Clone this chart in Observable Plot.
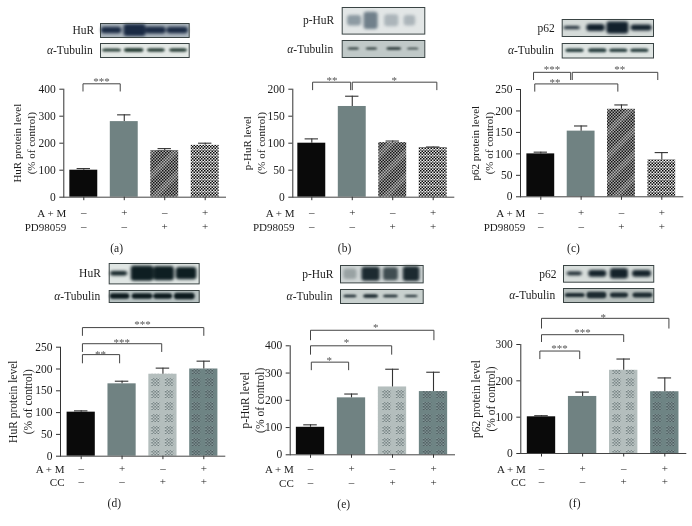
<!DOCTYPE html>
<html>
<head>
<meta charset="utf-8">
<script src="https://cdn.jsdelivr.net/npm/d3@7"></script>
<script src="https://cdn.jsdelivr.net/npm/@observablehq/plot@0.6"></script>
<style>
html,body{margin:0;padding:0;background:#fff}
#root{position:relative;width:692px;height:526px;overflow:hidden;background:#fff;filter:blur(0.35px)}
#root svg{position:absolute;background:transparent;overflow:visible}
</style>
</head>
<body>
<div id="root"></div>
<script>
// ---------- chart data ----------
const lanes = [0, 1, 2, 3];
const amSigns = ["–", "+", "–", "+"];
const drugSigns = ["–", "–", "+", "+"];
const ids = ["a", "b", "c", "d", "e", "f"];
const yTitles = ["HuR protein level\n(% of control)", "p-HuR level\n(% of control)", "p62 protein level\n(% of control)",
                 "HuR protein level\n(% of control)", "p-HuR level\n(% of control)", "p62 protein level\n(% of control)"];
const drugs = ["PD98059", "PD98059", "PD98059", "CC", "CC", "CC"];
const values = [[100, 280, 173, 192], [100, 168, 101, 92], [100, 153, 204, 86],
                [101, 166, 188, 200], [101, 209, 249, 232], [101, 157, 229, 170]];
const errors = [[6, 25, 7, 8], [8, 19, 3, 1], [4, 12, 10, 17],
                [3, 6, 14, 18], [9, 14, 65, 71], [3, 12, 31, 38]];
const yMax = [400, 200, 250, 250, 400, 300];
const yTicks = [[0,100,200,300,400],[0,50,100,150,200],[0,50,100,150,200,250],
                [0,50,100,150,200,250],[0,100,200,300,400],[0,100,200,300]];
// significance brackets: [lane from, lane to, level, foot level, stars, star lane, star level]
const brackets = [
  [[-0.02, 0.90, 420, 393, "***", 0.44, 440]],
  [[0.02, 0.96, 213, 199, "**", 0.50, 222], [1.00, 3.09, 213, 199, "*", 2.04, 222]],
  [[-0.18, 0.74, 290, 273, "***", 0.28, 304], [0.78, 2.90, 290, 273, "**", 1.96, 304], [-0.15, 1.91, 263, 246, "**", 0.35, 273]],
  [[0.03, 0.94, 233, 214, "**", 0.47, 240], [0.03, 1.97, 258, 240, "***", 0.99, 268], [0.03, 3.00, 295, 277, "***", 1.50, 309]],
  [[0.02, 0.93, 340, 312, "*", 0.46, 358], [0.00, 1.98, 400, 369, "*", 0.88, 422], [0.00, 3.01, 457, 422, "*", 1.59, 477]],
  [[-0.04, 0.93, 282, 261, "***", 0.44, 296], [0.00, 2.00, 327, 308, "***", 1.00, 340], [0.00, 3.10, 372, 345, "*", 1.50, 383]]
];
// western blots: label, background, ink, band centre, band width, band thickness, band strength
const blotLabels = [["HuR", "α-Tubulin"], ["p-HuR", "α-Tubulin"], ["p62", "α-Tubulin"],
                    ["HuR", "α-Tubulin"], ["p-HuR", "α-Tubulin"], ["p62", "α-Tubulin"]];
const blotPaper = [["#aab4bc", "#e4e9e6"], ["#e2e6e6", "#c0c9c8"], ["#d5dbd9", "#dfe5e3"],
                   ["#e0e6e4", "#b8c2c2"], ["#d0d6d6", "#c8d0ce"], ["#d8dedc", "#b8c0be"]];
const blotInk = [["#1a2a44", "#2a4038"], ["#6a7a86", "#1f2e2e"], ["#12202c", "#2a4040"],
                 ["#0e1e22", "#0c1a1e"], ["#1c2a30", "#16242a"], ["#14222a", "#1c2a30"]];
const blotCentre = [[[.125,.39,.625,.87],[.13,.38,.63,.88]], [[.15,.35,.6,.82],[.14,.36,.63,.86]], [[.11,.37,.61,.87],[.14,.39,.62,.85]],
                    [[.11,.37,.61,.86],[.12,.37,.6,.84]], [[.12,.37,.61,.86],[.12,.37,.61,.86]], [[.125,.38,.62,.87],[.13,.37,.62,.88]]];
const blotWidth = [[[.23,.25,.23,.24],[.21,.22,.2,.2]], [[.17,.17,.17,.14],[.14,.14,.18,.14]], [[.18,.2,.24,.23],[.2,.2,.2,.2]],
                   [[.19,.25,.23,.23],[.22,.23,.21,.23]], [[.16,.22,.18,.2],[.16,.18,.18,.16]], [[.17,.2,.2,.21],[.22,.22,.2,.22]]];
const blotThick = [[[.45,.85,.5,.45],[.22,.28,.24,.24]], [[.4,.65,.45,.4],[.12,.12,.15,.1]], [[.18,.4,.7,.35],[.25,.28,.24,.24]],
                   [[.22,.75,.7,.6],[.45,.45,.45,.55]], [[.6,.8,.75,.85],[.18,.24,.18,.16]], [[.22,.4,.62,.4],[.3,.45,.35,.35]]];
const blotStrength = [[[1,1,1,1],[1,1,1,1]], [[.7,.95,.45,.45],[1,1,1,1]], [[1,1,1,1],[1,1,1,1]],
                      [[1,1,1,1],[1,1,1,1]], [[.3,1,.8,1],[1,1,1,1]], [[1,1,1,1],[1,1,1,1]]];

// ---------- layout (page pixels) ----------
const FONT = "Liberation Serif";
const cells = [[0,231],[231,230],[461,231],[0,231],[231,230],[461,231]];
const rows = [[59,262],[59,262],[59,262],[304,526],[304,526],[304,526]];
const layout = [
 {axis:63.3, end:225, t0:83.3, t3:204.7, y0:196.7, yTop:88.7, row1:16.6, row2:30.6, cap:51.6, labelDx:2.4, titleDx:-40.5},
 {axis:292.3, end:453.3, t0:311.3, t3:432.7, y0:196.7, yTop:88.7, row1:16.6, row2:30.6, cap:51.6, labelDx:1.7, titleDx:-39.5},
 {axis:520, end:682.3, t0:540.3, t3:661.3, y0:196.3, yTop:89, row1:17, row2:31, cap:52, labelDx:4.7, titleDx:-39.3},
 {axis:60, end:224.3, t0:80.7, t3:203.3, y0:455.7, yTop:346.7, row1:13, row2:26.3, cap:47.6, labelDx:4, titleDx:-40.5},
 {axis:289.7, end:454, t0:310, t3:433, y0:454.3, yTop:345.3, row1:14.7, row2:28.4, cap:49.4, labelDx:3.6, titleDx:-38.4},
 {axis:520.3, end:685.3, t0:541, t3:664.3, y0:453, yTop:344, row1:16, row2:29.3, cap:50.3, labelDx:5, titleDx:-38.3}
];
const blotBoxes = [
 {x1:100, x2:188.7, b:[[22.5,36.5],[43.3,57.3]], lab:[93.7,92.3]},
 {x1:341.7, x2:424.3, b:[[6.7,33.3],[40,57]], lab:[333.7,332.7]},
 {x1:561.7, x2:653, b:[[19,36],[43,57.5]], lab:[554.3,553.3]},
 {x1:108.7, x2:198.7, b:[[263.3,283.7],[290.3,302.3]], lab:[100.3,99.7]},
 {x1:340, x2:422.7, b:[[265.3,282.7],[289,303]], lab:[333,332]},
 {x1:563, x2:653.3, b:[[265,281.7],[288.3,302.3]], lab:[556,554.7]}
];

const root = document.getElementById("root");
const baseStyle = {fontFamily: FONT, fontSize: "11px", color: "#1c1c1c", background: "transparent"};

function place(svg, left, top) {
  svg.style.left = left + "px";
  svg.style.top = top + "px";
  root.appendChild(svg);
}

function patternDefs(k) {
  const p = `p${k}`;
  const ck = (id, dark, light) => `<pattern id="${p}-${id}" width="3" height="3" patternUnits="userSpaceOnUse">
      <rect width="3" height="3" fill="${light}"/><rect width="1.5" height="1.5" fill="${dark}"/><rect x="1.5" y="1.5" width="1.5" height="1.5" fill="${dark}"/></pattern>`;
  const html = ck("ck", "#161616", "#a8a8a8") + ck("ckw", "#060606", "#e4e4e4") +
    ck("ckl", "#6e7c7c", "#c8d0d0") + ck("ckd", "#4a5a5c", "#86989a") +
    `<pattern id="${p}-hatch" width="24" height="24" patternUnits="userSpaceOnUse">
       <rect width="24" height="24" fill="url(#${p}-ck)"/>
       <path d="M0,24 L24,0 L24,8 L8,24 Z M0,8 L8,0 L0,0 Z" fill="rgba(255,255,255,.16)"/></pattern>
     <pattern id="${p}-dots" width="6" height="6" patternUnits="userSpaceOnUse">
       <rect width="6" height="6" fill="url(#${p}-ckw)"/><rect width="6" height="1" fill="rgba(255,255,255,.4)"/></pattern>
     <pattern id="${p}-plaidL" width="13.5" height="12" patternUnits="userSpaceOnUse">
       <rect width="13.5" height="12" fill="#b4bebd"/><rect x="3" y="2" width="8" height="8" fill="url(#${p}-ckl)"/></pattern>
     <pattern id="${p}-plaidD" width="13.5" height="12" patternUnits="userSpaceOnUse">
       <rect width="13.5" height="12" fill="#6e8484"/><rect x="3" y="2" width="8" height="8" fill="url(#${p}-ckd)"/></pattern>`;
  return () => {
    const d = document.createElementNS("http://www.w3.org/2000/svg", "defs");
    d.innerHTML = html;
    return d;
  };
}

function drawChart(k) {
  const L = layout[k], [cx, cw] = cells[k], [top, bottom] = rows[k];
  const p = `p${k}`;
  const fills = k < 3
    ? ["#0a0a0a", "#708282", `url(#${p}-hatch)`, `url(#${p}-dots)`]
    : ["#0a0a0a", "#708282", `url(#${p}-plaidL)`, `url(#${p}-plaidD)`];
  const table = lanes.map(i => ({lane: i, value: values[k][i], err: errors[k][i], fill: fills[i]}));
  const lines = brackets[k].flatMap((b, id) => [
    {id, x: b[0], y: b[3]}, {id, x: b[0], y: b[2]}, {id, x: b[1], y: b[2]}, {id, x: b[1], y: b[3]}]);
  const stars = brackets[k].map(b => ({text: b[4], x: b[5], y: b[6]}));
  const titleSize = k < 3 ? 11 : 11.5;
  const svg = Plot.plot({
    width: cw, height: bottom - top,
    marginLeft: L.axis - cx, marginRight: cx + cw - L.end,
    marginTop: L.yTop - top, marginBottom: bottom - L.y0,
    style: baseStyle,
    x: {domain: [0, 3], range: [L.t0 - cx, L.t3 - cx], label: null},
    y: {domain: [0, yMax[k]], label: null},
    marks: [
      patternDefs(k),
      Plot.rect(table, {x1: d => d.lane - 0.345, x2: d => d.lane + 0.345, y1: () => 0, y2: "value", fill: "fill"}),
      Plot.ruleX(table, {x: "lane", y1: "value", y2: d => d.value + d.err, stroke: "#333", strokeWidth: 1.1}),
      Plot.ruleY(table, {y: d => d.value + d.err, x1: d => d.lane - 0.165, x2: d => d.lane + 0.165, stroke: "#333", strokeWidth: 1.1}),
      Plot.frame({anchor: "left", stroke: "#333"}),
      Plot.frame({anchor: "bottom", stroke: "#444"}),
      Plot.axisY({ticks: yTicks[k], tickSize: 4, tickPadding: 4, label: null, stroke: "#333", fill: "#1c1c1c", fontSize: 11.5}),
      Plot.axisX({ticks: lanes, tickSize: 3.5, tickPadding: L.row1 - 9, tickFormat: i => amSigns[i], label: null, stroke: "#333", fill: "#1c1c1c"}),
      Plot.axisX({ticks: lanes, tickSize: 0, tickPadding: L.row2 - 5.5, tickFormat: i => drugSigns[i], label: null, fill: "#1c1c1c"}),
      Plot.line(lines, {x: "x", y: "y", z: "id", stroke: "#444", strokeWidth: 1}),
      Plot.text(stars, {x: "x", y: "y", text: "text", dy: 3, fontSize: 11, fill: "#555"}),
      Plot.text([yTitles[k]], {frameAnchor: "left", dx: L.titleDx, rotate: -90, textAnchor: "middle", lineHeight: 1.3, fontSize: titleSize, fill: "#1c1c1c"}),
      Plot.text(["A + M"], {frameAnchor: "bottom-left", textAnchor: "end", lineAnchor: "middle", dx: L.labelDx, dy: L.row1, fontSize: 11, fill: "#1c1c1c"}),
      Plot.text([drugs[k]], {frameAnchor: "bottom-left", textAnchor: "end", lineAnchor: "middle", dx: L.labelDx, dy: L.row2, fontSize: 11, fill: "#1c1c1c"}),
      Plot.text([`(${ids[k]})`], {x: () => 0.81, frameAnchor: "bottom", lineAnchor: "middle", dy: L.cap, fontSize: 11.5, fill: "#1c1c1c"})
    ]
  });
  place(svg, cx, top);
}

function drawBlot(k, j) {
  const B = blotBoxes[k], [cx, cw] = cells[k], [y1, y2] = B.b[j];
  const pad = 1;
  const bands = lanes.map(i => {
    const c = blotCentre[k][j][i], w = blotWidth[k][j][i], t = blotThick[k][j][i];
    return {x1: c - w / 2, x2: c + w / 2, y1: 0.5 - t / 2, y2: 0.5 + t / 2, o: blotStrength[k][j][i]};
  });
  const tall = d3.max(blotThick[k][j]) * (y2 - y1) > 8;
  const svg = Plot.plot({
    width: cw, height: y2 - y1 + 2 * pad,
    marginLeft: B.x1 - cx, marginRight: cx + cw - B.x2, marginTop: pad, marginBottom: pad,
    style: baseStyle,
    x: {domain: [0, 1], axis: null},
    y: {domain: [0, 1], axis: null},
    marks: [
      Plot.frame({fill: blotPaper[k][j]}),
      Plot.rect(bands, {x1: "x1", x2: "x2", y1: "y1", y2: "y2", fill: blotInk[k][j], fillOpacity: "o", rx: 3, imageFilter: tall ? "blur(1.5px)" : "blur(0.9px)"}),
      Plot.frame({stroke: "#3a4444", strokeWidth: 1}),
      Plot.text([blotLabels[k][j]], {frameAnchor: "left", textAnchor: "end", dx: B.lab[j] - B.x1, fontSize: 11.5, fill: "#1c1c1c"})
    ]
  });
  // the alpha of alpha-Tubulin is set in italics
  d3.select(svg).selectAll("text").each(function () {
    const s = this.textContent;
    if (s.startsWith("α")) {
      const t = d3.select(this);
      t.text(null);
      t.append("tspan").attr("font-style", "italic").text("α");
      t.append("tspan").text(s.slice(1));
    }
  });
  place(svg, cx, y1 - pad);
}

ids.forEach((_, k) => {
  drawBlot(k, 0);
  drawBlot(k, 1);
  drawChart(k);
});
</script>
</body>
</html>
